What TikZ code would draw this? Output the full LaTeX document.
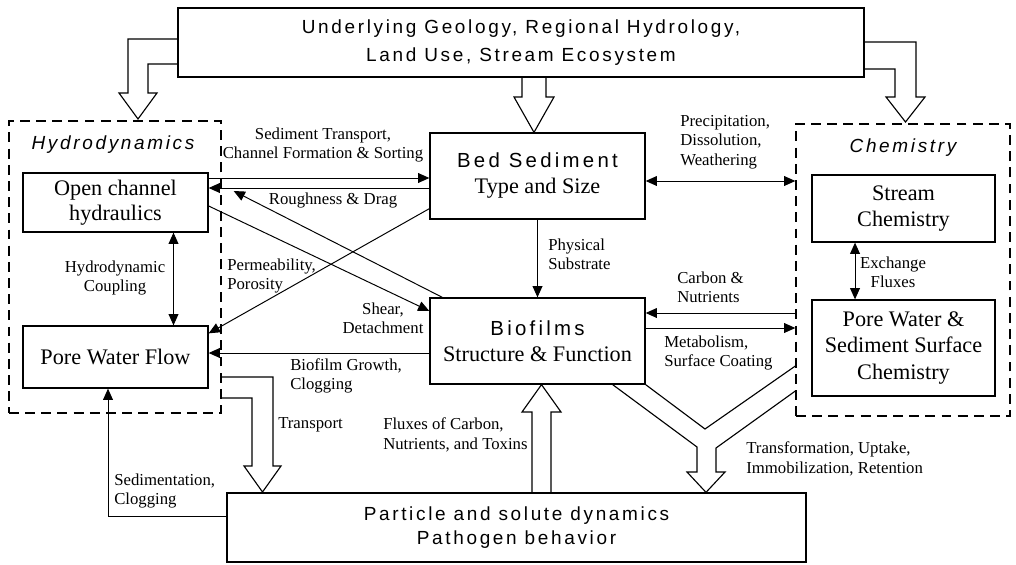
\documentclass[tikz,border=0pt]{standalone}
\usepackage{fontspec}
\setmainfont{Liberation Serif}
\newfontfamily\hsans[LetterSpace=14]{Liberation Sans}
\usetikzlibrary{arrows.meta,calc}

\tikzset{
  blk/.style={draw, line width=0.9pt, align=center, inner sep=0pt,
    font=\fontsize{15.8}{18.5}\selectfont},
  grp/.style={draw, dash pattern=on 7pt off 4.5pt, line width=0.9pt, inner sep=0pt},
  ttl/.style={font=\hsans\fontsize{13.5}{19.9}\selectfont, align=center, inner sep=0pt},
  lbl/.style={align=left, inner sep=0pt, font=\fontsize{11.9}{13.8}\selectfont},
  arr/.style={line width=0.7pt, -{Triangle[length=8pt,width=7pt]}},
  darr/.style={line width=0.7pt, {Triangle[length=8pt,width=7pt]}-{Triangle[length=8pt,width=7pt]}},
  hollow/.style={line width=0.8pt, line join=miter},
}

\begin{document}
\begin{tikzpicture}[x=0.025cm, y=-0.025cm]
\useasboundingbox (0,0) rectangle (1016,564);

% boxes
\node[blk, ttl, minimum width=17.15cm, minimum height=1.725cm] (geo) at (521,42.5)
  {Underlying Geology, Regional Hydrology,\\Land Use, Stream Ecosystem};
\node[grp, minimum width=5.3cm, minimum height=7.3cm] (hydro) at (115,267) {};
\node[ttl, font=\hsans\itshape\fontsize{13.5}{15}\selectfont] (hydrolbl) at (113,145) {Hydrodynamics};
\node[grp, minimum width=5.35cm, minimum height=7.3cm] (chem) at (903,270) {};
\node[ttl, font=\hsans\itshape\fontsize{13.5}{15}\selectfont] (chemlbl) at (903,148) {Chemistry};

\node[blk, minimum width=4.625cm, minimum height=1.475cm, font=\fontsize{15.8}{17.8}\selectfont]
  (open) at (115.5,202.5) {Open channel\\hydraulics};
\node[blk, minimum width=4.625cm, minimum height=1.55cm] (pore) at (115.5,357) {Pore Water Flow};
\node[blk, minimum width=5.375cm, minimum height=2.15cm] (bed) at (537.5,176)
  {{\hsans\addfontfeature{LetterSpace=16}\fontsize{14.5}{16}\selectfont Bed Sediment}\\Type and Size};
\node[blk, minimum width=5.375cm, minimum height=2.15cm] (bio) at (537.5,341)
  {{\hsans\addfontfeature{LetterSpace=16}\fontsize{14.5}{16}\selectfont Biofilms}\\Structure \& Function};
\node[blk, minimum width=4.575cm, minimum height=1.675cm] (stream) at (903.5,208.5) {Stream\\Chemistry};
\node[blk, minimum width=4.575cm, minimum height=2.4cm] (pchem) at (903.5,348)
  {Pore Water \&\\Sediment Surface\\Chemistry};
\node[blk, ttl, minimum width=14.475cm, minimum height=1.725cm, font=\hsans\fontsize{13.5}{17}\selectfont]
  (part) at (516.5,527.5) {Particle and solute dynamics\\Pathogen behavior};

% wide arrows
\draw[hollow] ($(geo.west)+(0,-3.5)$) -| (128,93) -- (119,93) -- (138,119) -- (157,93) -- (148,93)
  |- ($(geo.west)+(0,21.5)$);
\draw[hollow] ($(geo.south)+(1,0)$) -- (522,97) -- (514,97) -- ($(bed.north)+(-3.5,0)$) -- (554,97)
  -- (546,97) -- ($(geo.south)+(25,0)$);
\draw[hollow] ($(geo.east)+(0,-0.5)$) -| (916,97) -- (925,97) -- (905.5,122) -- (886,97) -- (895,97)
  |- ($(geo.east)+(0,26.5)$);
\draw[hollow] ($(hydro.east)+(0,110)$) -| (273,466) -- (281,466) -- (262.5,492) -- (244,466) -- (252,466)
  |- ($(hydro.east)+(0,131)$);
\draw[hollow] ($(part.north)+(15.5,0)$) -- (532,412) -- (522,412) -- ($(bio.south)+(4,0)$) -- (561,412)
  -- (551,412) -- ($(part.north)+(34.5,0)$);
\draw[hollow] ($(bio.south east)+(-33,0)$) -- (697,447) -- (697,472) -- (687,472) -- ($(part.north)+(189.5,0)$)
  -- (725,472) -- (716,472) -- (716,448) -- ($(chem.west)+(0,121)$);
\draw[hollow] (bio.south east) -- (705,429) -- ($(chem.west)+(0,96)$);

% connectors
\coordinate (s1) at ($(bed.west)+(0,2)$);
\draw[arr] (open.east |- s1) -- (s1);
\coordinate (r1) at ($(bed.west)+(0,12)$);
\draw[arr] (r1) -- (open.east |- r1);
\coordinate (shtip) at ($(open.east)+(25,-11.5)$);
\draw[arr] ($(bio.north west)+(13,0)$) -- (shtip);
\draw[arr] ($(open.east)+(0,3.5)$) -- ($(bio.west)+(0,-30)$);
\draw[arr] ($(bed.south west)+(0,-11)$) -- ($(pore.north east)+(0,8)$);
\coordinate (g1) at ($(bio.west)+(0,12)$);
\draw[arr] (g1) -- (pore.east |- g1);
\draw[darr] ($(open.south)+(58,0)$) -- ($(pore.north)+(58,0)$);
\coordinate (p1) at ($(bed.east)+(0,5)$);
\draw[darr] (p1) -- (chem.west |- p1);
\draw[arr] (bed) -- (bio);
\coordinate (c1) at ($(bio.east)+(0,-28)$);
\draw[arr] (chem.west |- c1) -- (c1);
\coordinate (m1) at ($(bio.east)+(0,-13)$);
\draw[arr] (m1) -- (chem.west |- m1);
\draw[darr] ($(stream.south)+(-48.5,0)$) -- ($(pchem.north)+(-48.5,0)$);
\draw[arr] ($(part.west)+(0,-11.5)$) -| ($(pore.south)+(-7.5,0)$);

% labels
\node[lbl, align=center] (sedl) at (323,145) {Sediment Transport,\\Channel Formation \& Sorting};
\node[lbl] (roughl) at (333,200) {Roughness \& Drag};
\node[lbl, anchor=west] (perml) at (227,276) {Permeability,\\Porosity};
\node[lbl, align=center] (shearl) at (383,318) {Shear,\\Detachment};
\node[lbl, anchor=west] (growl) at (290,376) {Biofilm Growth,\\Clogging};
\node[lbl, align=center] (coupl) at (115,278) {Hydrodynamic\\Coupling};
\node[lbl, anchor=west] (precl) at (680,142) {Precipitation,\\Dissolution,\\Weathering};
\node[lbl, anchor=west] (physl) at (548,254) {Physical\\Substrate};
\node[lbl, anchor=west] (carbl) at (677,287) {Carbon \&\\Nutrients};
\node[lbl, anchor=west] (metl) at (664,353) {Metabolism,\\Surface Coating};
\node[lbl, align=center] (exchl) at (893,272) {Exchange\\Fluxes};
\node[lbl, anchor=west] (transl) at (278,425) {Transport};
\node[lbl, anchor=west] (fluxl) at (383,435) {Fluxes of Carbon,\\Nutrients, and Toxins};
\node[lbl, anchor=west] (sedml) at (114,491) {Sedimentation,\\Clogging};
\node[lbl, anchor=west] (tranfl) at (746,459) {Transformation, Uptake,\\Immobilization, Retention};
\end{tikzpicture}
\end{document}
